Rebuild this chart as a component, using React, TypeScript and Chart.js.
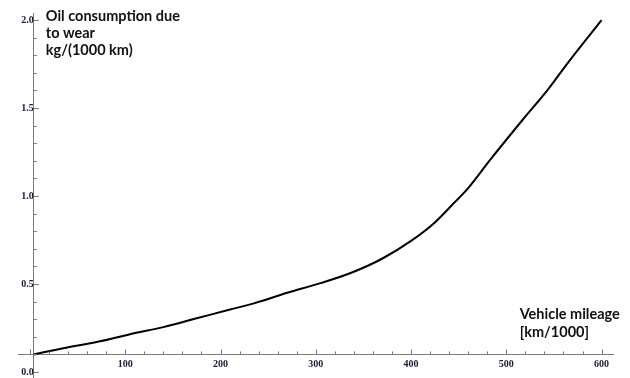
import React, { useEffect, useRef } from "react";
import { Chart, registerables } from "chart.js";

Chart.register(...registerables);

const mileage = [4, 35, 70, 105, 140, 175, 210, 235, 270, 305, 340, 370, 400, 425, 445, 460, 483, 517, 543, 565, 600];
const oilUse = [0.1, 0.135, 0.17, 0.215, 0.255, 0.305, 0.355, 0.39, 0.45, 0.505, 0.57, 0.645, 0.745, 0.85, 0.96, 1.045, 1.205, 1.432, 1.6, 1.76, 2.0];
const xTickLabels = [100, 200, 300, 400, 500, 600];
const yTickLabels = [0, 0.5, 1.0, 1.5, 2.0];
const yTitleLines = ["Oil consumption due", "to wear", "kg/(1000 km)"];
const xTitleLines = ["Vehicle mileage", "[km/1000]"];

const AXIS_COLOR = "#7a7a7a";

const decorPlugin = {
  id: "decor",
  afterDraw(chart: any) {
    const ctx = chart.ctx;
    const xs = chart.scales.x;
    const ys = chart.scales.y;
    const axisY = ys.getPixelForValue(0.1);
    const axisX = xs.getPixelForValue(4);
    ctx.save();
    ctx.strokeStyle = AXIS_COLOR;
    ctx.lineWidth = 1;
    for (let v = 0; v <= 600; v += 20) {
      const px = Math.round(xs.getPixelForValue(v)) + 0.5;
      const len = v % 100 === 0 ? 5 : 3;
      ctx.beginPath();
      ctx.moveTo(px, axisY);
      ctx.lineTo(px, axisY - len);
      ctx.stroke();
    }
    for (let i = 0; i <= 20; i++) {
      const v = i / 10;
      const py = Math.round(ys.getPixelForValue(v)) + 0.5;
      const len = i % 5 === 0 ? 5 : 3;
      ctx.beginPath();
      ctx.moveTo(axisX, py);
      ctx.lineTo(axisX + len, py);
      ctx.stroke();
    }
    ctx.fillStyle = "#111";
    ctx.font = "bold 14.5px Lato";
    ctx.textBaseline = "middle";
    ctx.textAlign = "left";
    const ty0 = ys.getPixelForValue(2.0) - 4;
    yTitleLines.forEach((t, i) => ctx.fillText(t, axisX + 12, ty0 + i * 17));
    const tx0 = xs.getPixelForValue(514);
    const txy = ys.getPixelForValue(0.1) - 40;
    xTitleLines.forEach((t, i) => ctx.fillText(t, tx0, txy + i * 18));
    ctx.restore();
  },
};

const zeroPad = (s: any) => {
  s.paddingTop = 0;
  s.paddingBottom = 0;
  s.paddingLeft = 0;
  s.paddingRight = 0;
};

export default function App() {
  const ref = useRef<HTMLCanvasElement | null>(null);
  useEffect(() => {
    if (!ref.current) return;
    const chart = new Chart(ref.current, {
      type: "line",
      data: {
        datasets: [
          {
            data: mileage.map((m, i) => ({ x: m, y: oilUse[i] })),
            borderColor: "#000",
            borderWidth: 2,
            pointRadius: 0,
            cubicInterpolationMode: "monotone",
            fill: false,
          },
        ],
      },
      options: {
        animation: false,
        responsive: true,
        maintainAspectRatio: false,
        layout: { padding: { left: 18, right: 17, top: 13, bottom: 0 } },
        plugins: { legend: { display: false }, tooltip: { enabled: false } },
        scales: {
          x: {
            type: "linear",
            min: -12.6,
            max: 612,
            position: { y: 0.1 } as any,
            grid: { display: false, drawTicks: false },
            border: { display: true, color: AXIS_COLOR, width: 1 },
            afterBuildTicks: (s: any) => {
              s.ticks = xTickLabels.map((v) => ({ value: v }));
            },
            afterFit: zeroPad,
            ticks: {
              padding: 4,
              maxRotation: 0,
              autoSkip: false,
              color: "#1a1a3a",
              font: { family: "Liberation Serif", size: 10, weight: "bold" },
              callback: (v: any) => String(v),
            },
          },
          y: {
            type: "linear",
            min: -0.034,
            max: 2.04,
            position: { x: 4 } as any,
            grid: { display: false, drawTicks: false },
            border: { display: true, color: AXIS_COLOR, width: 1 },
            afterBuildTicks: (s: any) => {
              s.ticks = yTickLabels.map((v) => ({ value: v }));
            },
            afterFit: zeroPad,
            ticks: {
              padding: 4,
              autoSkip: false,
              color: "#1a1a3a",
              font: { family: "Liberation Serif", size: 10, weight: "bold" },
              callback: (v: any) => Number(v).toFixed(1),
            },
          },
        },
      },
      plugins: [decorPlugin],
    });
    return () => chart.destroy();
  }, []);
  return (
    <div style={{ position: "fixed", left: 0, top: 0, width: 630, height: 378, background: "#fff" }}>
      <canvas ref={ref} />
    </div>
  );
}
